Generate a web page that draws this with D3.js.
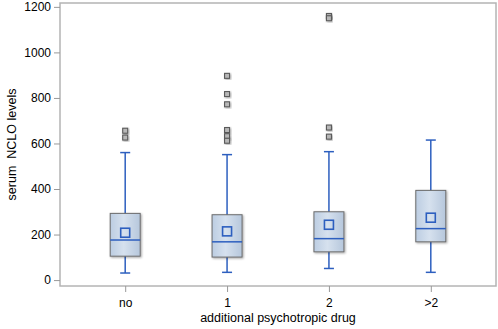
<!DOCTYPE html>
<html>
<head>
<meta charset="utf-8">
<script src="https://cdn.jsdelivr.net/npm/d3@7"></script>
<style>
  body { margin: 0; background: #fff; }
  text { font-family: "Liberation Sans", Arial, sans-serif; fill: #000; }
</style>
</head>
<body>
<div id="container"></div>
<script>
/* CONSTANTS AND GLOBALS */
const width = 498;
const height = 329;
const margin = { top: 3, right: 2, bottom: 43, left: 60 };

/* DATA */
const groups = ["no", "1", "2", ">2"];
const whiskerLow = [31, 34, 51, 34];
const q1 = [105, 101, 124, 168];
const median = [176, 168, 182, 226];
const q3 = [293, 287, 300, 394];
const whiskerHigh = [560, 551, 564, 615];
const means = [208, 214, 243, 274];
const outliers = [
  [656, 626],
  [897, 817, 772, 659, 632, 612],
  [1160, 1150, 670, 630],
  []
];
const yTicks = [0, 200, 400, 600, 800, 1000, 1200];

const data = groups.map((g, i) => ({
  group: g, lo: whiskerLow[i], q1: q1[i], med: median[i], q3: q3[i],
  hi: whiskerHigh[i], mean: means[i], out: outliers[i]
}));

// SCALES
const x = d3.scalePoint()
  .domain(groups)
  .range([margin.left, width - margin.right])
  .padding(0.64);

const y = d3.scaleLinear()
  .domain([-26, 1217])
  .range([height - margin.bottom, margin.top]);

// CREATE SVG ELEMENT
const svg = d3.select("#container")
  .append("svg")
  .attr("width", width)
  .attr("height", height);

const defs = svg.append("defs");
const grad = defs.append("linearGradient")
  .attr("id", "boxfill")
  .attr("x1", "0").attr("y1", "0").attr("x2", "1").attr("y2", "0");
grad.append("stop").attr("offset", "0%").attr("stop-color", "#bccde2");
grad.append("stop").attr("offset", "45%").attr("stop-color", "#d6e1ee");
grad.append("stop").attr("offset", "100%").attr("stop-color", "#b6c7dc");

const shadow = defs.append("filter").attr("id", "shadow")
  .attr("x", "-30%").attr("y", "-30%").attr("width", "160%").attr("height", "160%");
shadow.append("feDropShadow")
  .attr("dx", 1).attr("dy", 1).attr("stdDeviation", 1)
  .attr("flood-color", "#000").attr("flood-opacity", 0.35);

// frame
svg.append("rect")
  .attr("x", margin.left)
  .attr("y", margin.top)
  .attr("width", width - margin.left - margin.right)
  .attr("height", height - margin.top - margin.bottom)
  .attr("fill", "none")
  .attr("stroke", "#b4b4b4")
  .attr("stroke-width", 1.5);

// BUILD AND CALL AXES
const yAxis = svg.append("g")
  .attr("transform", "translate(" + margin.left + ",0)")
  .call(d3.axisLeft(y).tickValues(yTicks).tickFormat(d3.format("d")).tickSize(6).tickPadding(3));
yAxis.select(".domain").remove();
yAxis.selectAll(".tick line").attr("stroke", "#999");
yAxis.selectAll(".tick text").attr("font-size", 12).style("fill", "#000");

const xAxis = svg.append("g")
  .attr("transform", "translate(0," + (height - margin.bottom) + ")")
  .call(d3.axisBottom(x).tickSize(6).tickPadding(6));
xAxis.select(".domain").remove();
xAxis.selectAll(".tick line").attr("stroke", "#999");
xAxis.selectAll(".tick text").attr("font-size", 12).style("fill", "#000");

svg.append("text")
  .attr("x", (margin.left + width - margin.right) / 2)
  .attr("y", 322)
  .attr("text-anchor", "middle")
  .attr("font-size", 12.5)
  .text("additional psychotropic drug");

svg.append("text")
  .attr("transform", "translate(16," + ((margin.top + height - margin.bottom) / 2) + ") rotate(-90)")
  .attr("text-anchor", "middle")
  .attr("font-size", 12.5)
  .attr("xml:space", "preserve")
  .text("serum  NCLO levels");

// DRAW BOXES
const boxW = 30;
const capW = 10;
const blue = "#2d5fbf";

const g = svg.selectAll(".box")
  .data(data)
  .join("g")
  .attr("class", "box");

// whiskers
g.append("line")
  .attr("x1", d => x(d.group)).attr("x2", d => x(d.group))
  .attr("y1", d => y(d.lo)).attr("y2", d => y(d.hi))
  .attr("stroke", blue).attr("stroke-width", 1.5);
g.append("line")
  .attr("x1", d => x(d.group) - capW / 2).attr("x2", d => x(d.group) + capW / 2)
  .attr("y1", d => y(d.lo)).attr("y2", d => y(d.lo))
  .attr("stroke", blue).attr("stroke-width", 1.5);
g.append("line")
  .attr("x1", d => x(d.group) - capW / 2).attr("x2", d => x(d.group) + capW / 2)
  .attr("y1", d => y(d.hi)).attr("y2", d => y(d.hi))
  .attr("stroke", blue).attr("stroke-width", 1.5);

// box
g.append("rect")
  .attr("x", d => x(d.group) - boxW / 2)
  .attr("y", d => y(d.q3))
  .attr("width", boxW)
  .attr("height", d => y(d.q1) - y(d.q3))
  .attr("fill", "url(#boxfill)")
  .attr("stroke", "#6b6b6b")
  .attr("stroke-width", 1)
  .attr("filter", "url(#shadow)");

// median
g.append("line")
  .attr("x1", d => x(d.group) - boxW / 2).attr("x2", d => x(d.group) + boxW / 2)
  .attr("y1", d => y(d.med)).attr("y2", d => y(d.med))
  .attr("stroke", blue).attr("stroke-width", 1.5);

// mean
g.append("rect")
  .attr("x", d => x(d.group) - 4.5)
  .attr("y", d => y(d.mean) - 4.5)
  .attr("width", 9).attr("height", 9)
  .attr("fill", "none")
  .attr("stroke", blue).attr("stroke-width", 1.6);

// outliers
g.selectAll(".out")
  .data(d => d.out.map(v => ({ group: d.group, v })))
  .join("rect")
  .attr("class", "out")
  .attr("x", d => x(d.group) - 2.5)
  .attr("y", d => y(d.v) - 2.5)
  .attr("width", 5).attr("height", 5)
  .attr("fill", "#b8b8b8")
  .attr("stroke", "#5a5a5a")
  .attr("stroke-width", 1.1)
  .attr("filter", "url(#shadow)");
</script>
</body>
</html>
